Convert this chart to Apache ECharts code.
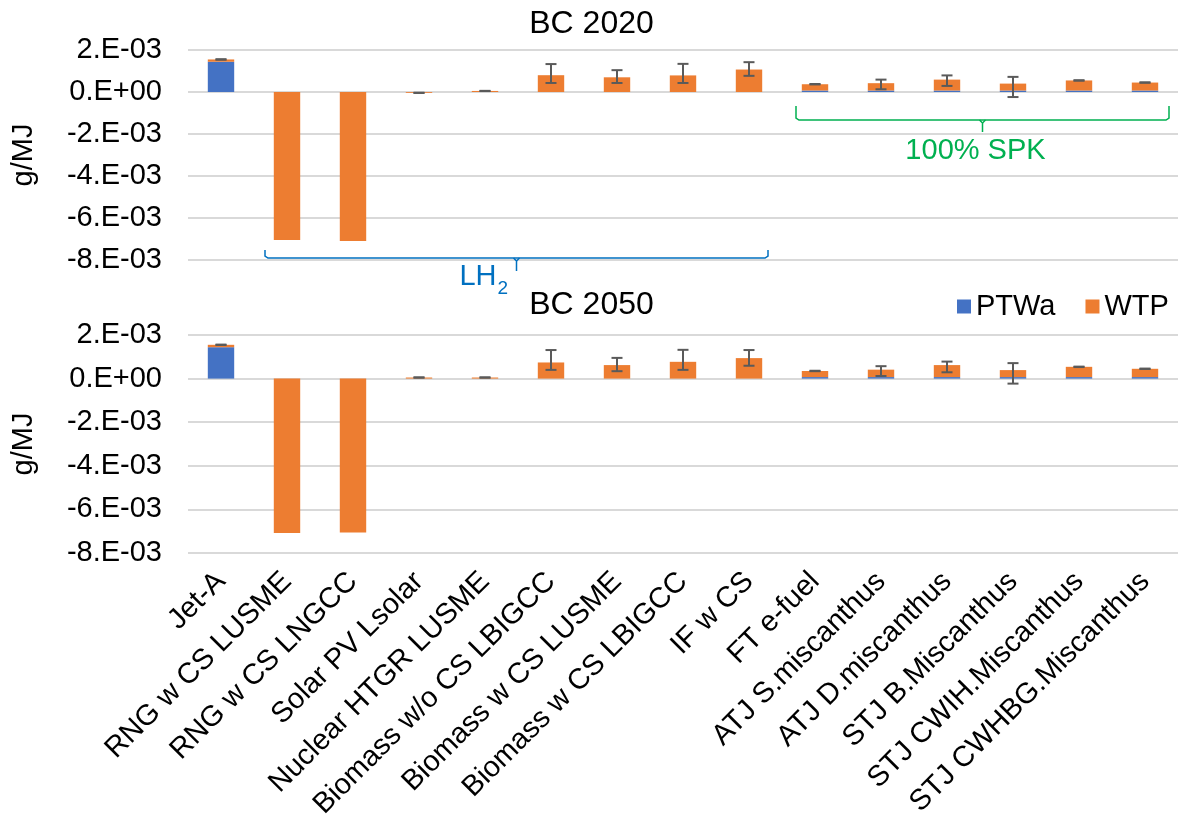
<!DOCTYPE html>
<html>
<head>
<meta charset="utf-8">
<script src="https://cdn.jsdelivr.net/npm/echarts@6/dist/echarts.min.js"></script>
<style>
html,body{margin:0;padding:0;background:#fff;}
#c{width:1183px;height:833px;}
</style>
</head>
<body>
<div id="c"></div>
<script>
// ---- data (g/MJ) ----
const categories = ['Jet-A','RNG w CS LUSME','RNG w CS LNGCC','Solar PV Lsolar','Nuclear HTGR LUSME',
  'Biomass w/o CS LBIGCC','Biomass w CS LUSME','Biomass w CS LBIGCC','IF w CS','FT e-fuel',
  'ATJ S.miscanthus','ATJ D.miscanthus','STJ B.Miscanthus','STJ CWIH.Miscanthus','STJ CWHBG.Miscanthus'];
const seriesNames = ['PTWa','WTP'];
const chartTitles = ['BC 2020','BC 2050'];
const yAxisName = 'g/MJ';
const yMin = -0.008, yMax = 0.002, yStep = 0.002;

const ptwa2020 = [1.44e-3,0,0,0,0,0,0,0,0,0.07e-3,0.07e-3,0.07e-3,0.07e-3,0.07e-3,0.07e-3];
const wtp2020  = [0.11e-3,-7.05e-3,-7.10e-3,-0.04e-3,0.05e-3,0.80e-3,0.70e-3,0.79e-3,1.07e-3,0.30e-3,0.35e-3,0.52e-3,0.33e-3,0.48e-3,0.38e-3];
const errLow2020  = [1.54e-3,null,null,-0.045e-3,0.045e-3,0.43e-3,0.43e-3,0.43e-3,0.77e-3,0.36e-3,0.13e-3,0.29e-3,-0.24e-3,0.54e-3,0.44e-3];
const errHigh2020 = [1.56e-3,null,null,-0.035e-3,0.055e-3,1.33e-3,1.04e-3,1.34e-3,1.42e-3,0.38e-3,0.59e-3,0.79e-3,0.72e-3,0.56e-3,0.46e-3];

const ptwa2050 = [1.44e-3,0,0,0,0,0,0,0,0,0.07e-3,0.07e-3,0.07e-3,0.07e-3,0.07e-3,0.07e-3];
const wtp2050  = [0.11e-3,-7.08e-3,-7.06e-3,0.05e-3,0.05e-3,0.74e-3,0.62e-3,0.77e-3,0.94e-3,0.28e-3,0.34e-3,0.55e-3,0.32e-3,0.47e-3,0.38e-3];
const errLow2050  = [1.54e-3,null,null,0.045e-3,0.045e-3,0.40e-3,0.34e-3,0.40e-3,0.59e-3,0.34e-3,0.12e-3,0.29e-3,-0.23e-3,0.53e-3,0.44e-3];
const errHigh2050 = [1.56e-3,null,null,0.055e-3,0.055e-3,1.31e-3,0.95e-3,1.32e-3,1.31e-3,0.36e-3,0.57e-3,0.78e-3,0.71e-3,0.55e-3,0.46e-3];

const groupLH2 = {label:'LH', sub:'2', from:1, to:8};
const groupSPK = {label:'100% SPK', from:9, to:14};

// ---- styling ----
const FONT = '"Liberation Sans", Arial, sans-serif';
const FS = 29;
const BLUE = '#4472C4', ORANGE = '#ED7D31', ERR = '#5a5a5a';

function sci(v){
  if (Math.abs(v) < 1e-12) return '0.E+00';
  const e = Math.floor(Math.log10(Math.abs(v)) + 1e-9);
  const m = Math.round(v / Math.pow(10, e));
  return m + '.E' + (e < 0 ? '-' : '+') + String(Math.abs(e)).padStart(2, '0');
}
function errData(lo, hi){
  const out = [];
  lo.forEach((l, i) => { if (l != null && hi[i] != null) out.push([i, l, hi[i]]); });
  return out;
}
function renderErr(params, api){
  const x = api.value(0);
  const p1 = api.coord([x, api.value(1)]);
  const p2 = api.coord([x, api.value(2)]);
  const h = 5.5;
  const st = {stroke: ERR, lineWidth: 2};
  return {type:'group', children:[
    {type:'line', shape:{x1:p1[0], y1:p1[1], x2:p2[0], y2:p2[1]}, style:st},
    {type:'line', shape:{x1:p1[0]-h, y1:p1[1], x2:p1[0]+h, y2:p1[1]}, style:st},
    {type:'line', shape:{x1:p2[0]-h, y1:p2[1], x2:p2[0]+h, y2:p2[1]}, style:st}
  ]};
}
function yAxisCfg(g){
  return {
    gridIndex:g, type:'value', min:yMin, max:yMax, interval:yStep,
    axisLine:{show:false}, axisTick:{show:false},
    axisLabel:{formatter:sci, fontSize:FS, color:'#000', margin:26, fontFamily:FONT},
    splitLine:{lineStyle:{color:'#d9d9d9', width:2}},
    name:yAxisName, nameLocation:'middle', nameGap:150, nameRotate:90,
    nameTextStyle:{fontSize:FS, color:'#000', fontFamily:FONT}
  };
}
function barSeries(name, g, data, color){
  return {name:name, type:'bar', stack:'s'+g, xAxisIndex:g, yAxisIndex:g, data:data,
    barWidth:'40%', itemStyle:{color:color}, z:2};
}
function errSeries(g, lo, hi){
  return {type:'custom', name:'err'+g, xAxisIndex:g, yAxisIndex:g, data:errData(lo, hi),
    renderItem:renderErr, encode:{x:0, y:[1,2]}, z:5, silent:true};
}

const chart = echarts.init(document.getElementById('c'));
chart.setOption({
  animation:false,
  textStyle:{fontFamily:FONT},
  title:[
    {text:chartTitles[0], left:'center', top:3, textStyle:{fontSize:32, fontWeight:'normal', color:'#000', fontFamily:FONT}},
    {text:chartTitles[1], left:'center', top:284, textStyle:{fontSize:32, fontWeight:'normal', color:'#000', fontFamily:FONT}}
  ],
  legend:{data:seriesNames, left:952, top:287, icon:'rect', itemWidth:14, itemHeight:14, itemGap:30,
    textStyle:{fontSize:FS, color:'#000', fontFamily:FONT}},
  grid:[
    {left:188, top:50, width:990, height:210},
    {left:188, top:335, width:990, height:218}
  ],
  xAxis:[
    {gridIndex:0, type:'category', data:categories, axisLine:{show:false}, axisTick:{show:false}, axisLabel:{show:false}},
    {gridIndex:1, type:'category', data:categories, axisLine:{show:false, onZero:false}, axisTick:{show:false},
      axisLabel:{rotate:45, interval:0, margin:24, fontSize:FS, color:'#000', fontFamily:FONT}}
  ],
  yAxis:[yAxisCfg(0), yAxisCfg(1)],
  series:[
    barSeries(seriesNames[0], 0, ptwa2020, BLUE),
    barSeries(seriesNames[1], 0, wtp2020, ORANGE),
    errSeries(0, errLow2020, errHigh2020),
    barSeries(seriesNames[0], 1, ptwa2050, BLUE),
    barSeries(seriesNames[1], 1, wtp2050, ORANGE),
    errSeries(1, errLow2050, errHigh2050)
  ]
});

// ---- bracket annotations (positions from the chart's own scales) ----
function px(i, v){ return chart.convertToPixel({gridIndex:0}, [i, v]); }
const g = [];
{
  const c = '#0070C0';
  const xL = px(groupLH2.from, 0)[0] - 22, xR = px(groupLH2.to, 0)[0] + 19, xM = (xL + xR) / 2;
  const yB = px(0, yMin)[1];
  const yTop = yB - 10, yH = yB - 2, yT = yB + 11;
  g.push({type:'polyline', shape:{points:[[xL,yTop],[xL,yH-2],[xL+3,yH],[xR-3,yH],[xR,yH-2],[xR,yTop]]}, style:{stroke:c, lineWidth:1.5, fill:null}});
  g.push({type:'polyline', shape:{points:[[xM-3,yH],[xM,yH+3],[xM,yT]]}, style:{stroke:c, lineWidth:1.5, fill:null}});
  g.push({type:'polyline', shape:{points:[[xM+3,yH],[xM,yH+3]]}, style:{stroke:c, lineWidth:1.5, fill:null}});
  g.push({type:'text', x:xM - 20, y:yB + 17, style:{text:groupLH2.label, fill:c, font:FS + 'px ' + FONT, align:'right', verticalAlign:'middle'}});
  g.push({type:'text', x:xM - 19, y:yB + 29, style:{text:groupLH2.sub, fill:c, font:'19px ' + FONT, align:'left', verticalAlign:'middle'}});
}
{
  const c = '#00B050';
  const xL = px(groupSPK.from, 0)[0] - 19, xR = px(groupSPK.to, 0)[0] + 24, xM = (xL + xR) / 2;
  const y0 = px(0, 0)[1];
  const yTop = y0 + 14, yH = y0 + 28, yT = y0 + 40;
  g.push({type:'polyline', shape:{points:[[xL,yTop],[xL,yH-2],[xL+3,yH],[xR-3,yH],[xR,yH-2],[xR,yTop]]}, style:{stroke:c, lineWidth:1.5, fill:null}});
  g.push({type:'polyline', shape:{points:[[xM-3,yH],[xM,yH+3],[xM,yT]]}, style:{stroke:c, lineWidth:1.5, fill:null}});
  g.push({type:'polyline', shape:{points:[[xM+3,yH],[xM,yH+3]]}, style:{stroke:c, lineWidth:1.5, fill:null}});
  g.push({type:'text', x:xM - 7, y:y0 + 59, style:{text:groupSPK.label, fill:c, font:FS + 'px ' + FONT, align:'center', verticalAlign:'middle'}});
}
chart.setOption({graphic:g});
</script>
</body>
</html>
